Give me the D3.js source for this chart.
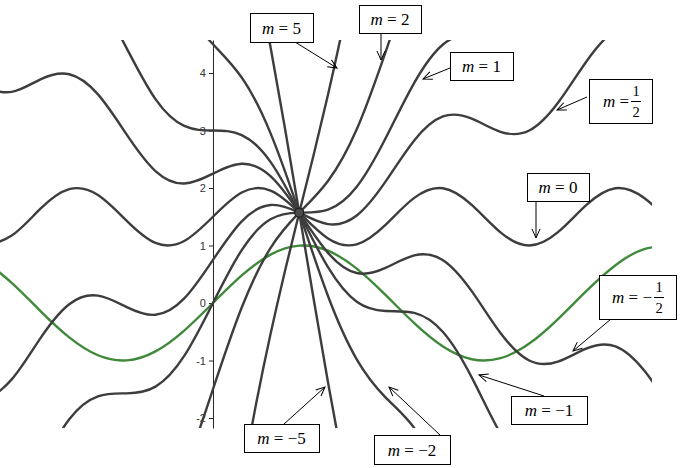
<!DOCTYPE html>
<html>
<head>
<meta charset="utf-8">
<script src="https://cdn.jsdelivr.net/npm/d3@7"></script>
<style>
  body { margin: 0; background: #fff; }
  svg { display: block; }
  .y-axis text { font-family: "Liberation Sans", Arial, sans-serif; font-size: 11px; fill: #333; }
  .y-axis path, .y-axis line { stroke: #222; }
  .label text { font-family: "Liberation Serif", "Times New Roman", serif; fill: #000; }
</style>
</head>
<body>
<svg id="chart" width="681" height="468"></svg>
<script>
// y axis ticks
const yTicks = [-2, -1, 0, 1, 2, 3, 4];

// points, [x, y] in graph units
const sinePoints = [[-4, 0.757], [-3.5, 0.351], [-3, -0.141], [-2.5, -0.598], [-2, -0.909], [-1.5, -0.997],
  [-1, -0.841], [-0.5, -0.479], [0, 0], [0.5, 0.479], [1, 0.841], [1.5, 0.997], [2, 0.909], [2.5, 0.598],
  [3, 0.141], [3.5, -0.351], [4, -0.757], [4.5, -0.978], [5, -0.959], [5.5, -0.706], [6, -0.279],
  [6.5, 0.215], [7, 0.657], [7.5, 0.938], [8, 0.989]];

const curveM5 = [[0.25, -4.51], [0.5, -3.079], [0.75, -1.751], [1, -0.545], [1.25, 0.549], [1.5, 1.571],
  [1.75, 2.575], [2, 3.622], [2.25, 4.761], [2.5, 6.021]];

const curveM2 = [[-1, -3.955], [-0.5, -2.921], [0, -1.5], [0.5, -0.079], [1, 0.955], [1.5, 1.571],
  [2, 2.122], [2.5, 3.021], [3, 4.36], [3.5, 5.828]];

const curveM1 = [[-3, -2.86], [-2.5, -2.021], [-2, -1.622], [-1.5, -1.571], [-1, -1.455], [-0.5, -0.921],
  [0, 0], [0.5, 0.921], [1, 1.455], [1.5, 1.571], [2, 1.622], [2.5, 2.021], [3, 2.86], [3.5, 3.828],
  [4, 4.495], [4.5, 4.706], [5, 4.728]];

const curveMHalf = [[-4, -1.745], [-3.5, -1.328], [-3, -0.61], [-2.5, -0.021], [-2, 0.128], [-1.5, -0.071],
  [-1, -0.205], [-0.5, 0.079], [0, 0.75], [0.5, 1.421], [1, 1.705], [1.5, 1.571], [2, 1.372], [2.5, 1.521],
  [3, 2.11], [3.5, 2.828], [4, 3.245], [4.5, 3.206], [5, 2.978], [5.5, 3.0], [6, 3.482], [6.5, 4.21],
  [7, 4.745], [7.5, 4.825], [8, 4.606]];

const curveM0 = [[-4, 1.005], [-3.5, 1.172], [-3, 1.64], [-2.5, 1.979], [-2, 1.878], [-1.5, 1.429],
  [-1, 1.045], [-0.5, 1.079], [0, 1.5], [0.5, 1.921], [1, 1.955], [1.5, 1.571], [2, 1.122], [2.5, 1.021],
  [3, 1.36], [3.5, 1.828], [4, 1.995], [4.5, 1.706], [5, 1.228], [5.5, 1.0], [6, 1.232], [6.5, 1.71],
  [7, 1.995], [7.5, 1.825], [8, 1.356]];

const curveMNegHalf = [[-4, 3.755], [-3.5, 3.672], [-3, 3.89], [-2.5, 3.979], [-2, 3.628], [-1.5, 2.929],
  [-1, 2.295], [-0.5, 2.079], [0, 2.25], [0.5, 2.421], [1, 2.205], [1.5, 1.571], [2, 0.872], [2.5, 0.521],
  [3, 0.61], [3.5, 0.828], [4, 0.745], [4.5, 0.206], [5, -0.522], [5.5, -1.0], [6, -1.018], [6.5, -0.79],
  [7, -0.755], [7.5, -1.175], [8, -1.894]];

const curveMNeg1 = [[-2, 5.378], [-1.5, 4.429], [-1, 3.545], [-0.5, 3.079], [0, 3.0], [0.5, 2.921],
  [1, 2.455], [1.5, 1.571], [2, 0.622], [2.5, 0.021], [3, -0.14], [3.5, -0.172], [4, -0.505],
  [4.5, -1.294], [5, -2.272], [5.5, -3.0]];

const curveMNeg2 = [[-0.5, 5.079], [0, 4.5], [0.5, 3.921], [1, 2.955], [1.5, 1.571], [2, 0.122],
  [2.5, -0.979], [3, -1.64], [3.5, -2.172], [4, -3.005]];

const curveMNeg5 = [[0.5, 6.921], [0.75, 5.749], [1, 4.455], [1.25, 3.049], [1.5, 1.571], [1.75, 0.075],
  [2, -1.378], [2.25, -2.739], [2.5, -3.979]];

const familyCurves = [curveM5, curveM2, curveM1, curveMHalf, curveM0, curveMNegHalf, curveMNeg1, curveMNeg2, curveMNeg5];
const commonPoint = [1.5, 1.571];

// callouts: label, box [x, y, w, h] and arrow from/to in pixels
const callouts = [
  { sign: "", num: "5", box: [250, 13, 63, 29], from: [295, 42], to: [337, 68] },
  { sign: "", num: "2", box: [359, 5, 62, 28], from: [381, 33], to: [381, 60] },
  { sign: "", num: "1", box: [450, 52, 63, 28], from: [450, 68], to: [423, 79] },
  { sign: "", frac: true, box: [589, 79, 63, 44], from: [587, 97], to: [557, 110] },
  { sign: "", num: "0", box: [527, 173, 62, 28], from: [536, 201], to: [536, 238] },
  { sign: "\u2212", frac: true, box: [599, 275, 77, 44], from: [611, 319], to: [573, 351] },
  { sign: "\u2212", num: "1", box: [511, 396, 76, 28], from: [544, 396], to: [479, 375] },
  { sign: "\u2212", num: "5", box: [244, 424, 75, 28], from: [284, 424], to: [325, 387] },
  { sign: "\u2212", num: "2", box: [374, 435, 76, 29], from: [440, 435], to: [389, 387] }
];

const svg = d3.select("#chart");
const plot = { left: 0, right: 652, top: 40, bottom: 428 };

const x = d3.scaleLinear().domain([-3.704, 7.635]).range([plot.left, plot.right]);
const y = d3.scaleLinear().domain([-2.174, 4.574]).range([plot.bottom, plot.top]);

svg.append("defs").append("clipPath").attr("id", "plot-clip")
  .append("rect")
  .attr("x", plot.left).attr("y", plot.top)
  .attr("width", plot.right - plot.left).attr("height", plot.bottom - plot.top);

const marker = svg.select("defs").append("marker")
  .attr("id", "arrow")
  .attr("viewBox", "-10 -5 11 10")
  .attr("refX", 0).attr("refY", 0)
  .attr("markerWidth", 11).attr("markerHeight", 10)
  .attr("markerUnits", "userSpaceOnUse")
  .attr("orient", "auto");
marker.append("path")
  .attr("d", "M-9,-4L0,0L-9,4")
  .attr("fill", "none")
  .attr("stroke", "#000")
  .attr("stroke-width", 1);

// y axis
svg.append("g")
  .attr("class", "y-axis")
  .attr("transform", `translate(${x(0)},0)`)
  .call(d3.axisLeft(y).tickValues(yTicks).tickSize(4).tickSizeOuter(0).tickFormat(d => String(d)))
  .call(g => g.selectAll("text").attr("font-family", null).attr("font-size", null));

const line = d3.line()
  .x(d => x(d[0]))
  .y(d => y(d[1]))
  .curve(d3.curveNatural);

const curves = svg.append("g").attr("clip-path", "url(#plot-clip)");

curves.append("path")
  .datum(sinePoints)
  .attr("d", line)
  .attr("fill", "none")
  .attr("stroke", "#3f8a3a")
  .attr("stroke-width", 2.4);

curves.selectAll(".family")
  .data(familyCurves)
  .join("path")
  .attr("class", "family")
  .attr("d", line)
  .attr("fill", "none")
  .attr("stroke", "#3d3d3d")
  .attr("stroke-width", 2.4);

svg.append("circle")
  .attr("cx", x(commonPoint[0]))
  .attr("cy", y(commonPoint[1]))
  .attr("r", 4.5)
  .attr("fill", "#4a4a4a")
  .attr("stroke", "#1e1e1e")
  .attr("stroke-width", 1.2);

// callouts
const labels = svg.append("g").attr("class", "label");

callouts.forEach(c => {
  const [bx, by, bw, bh] = c.box;
  labels.append("line")
    .attr("x1", c.from[0]).attr("y1", c.from[1])
    .attr("x2", c.to[0]).attr("y2", c.to[1])
    .attr("stroke", "#000")
    .attr("stroke-width", 1)
    .attr("marker-end", "url(#arrow)");

  labels.append("rect")
    .attr("x", bx + 0.5).attr("y", by + 0.5)
    .attr("width", bw).attr("height", bh)
    .attr("fill", "#fff")
    .attr("stroke", "#000")
    .attr("stroke-width", 1);

  if (!c.frac) {
    const t = labels.append("text")
      .attr("x", bx + bw / 2)
      .attr("y", by + bh / 2 + 6)
      .attr("text-anchor", "middle")
      .attr("font-size", 17);
    t.append("tspan").attr("font-style", "italic").text("m");
    t.append("tspan").text(" = " + c.sign + c.num);
  } else {
    const fx = bx + bw - (c.sign ? 17 : 16);
    const t = labels.append("text")
      .attr("x", fx - 7)
      .attr("y", by + 28)
      .attr("text-anchor", "end")
      .attr("font-size", 17);
    t.append("tspan").attr("font-style", "italic").text("m");
    t.append("tspan").text(" = " + c.sign);
    labels.append("text")
      .attr("x", fx).attr("y", by + 17)
      .attr("text-anchor", "middle")
      .attr("font-size", 14.5)
      .text("1");
    labels.append("line")
      .attr("x1", fx - 5).attr("x2", fx + 5)
      .attr("y1", by + 22.5).attr("y2", by + 22.5)
      .attr("stroke", "#000").attr("stroke-width", 1);
    labels.append("text")
      .attr("x", fx).attr("y", by + 38)
      .attr("text-anchor", "middle")
      .attr("font-size", 14.5)
      .text("2");
  }
});
</script>
</body>
</html>
